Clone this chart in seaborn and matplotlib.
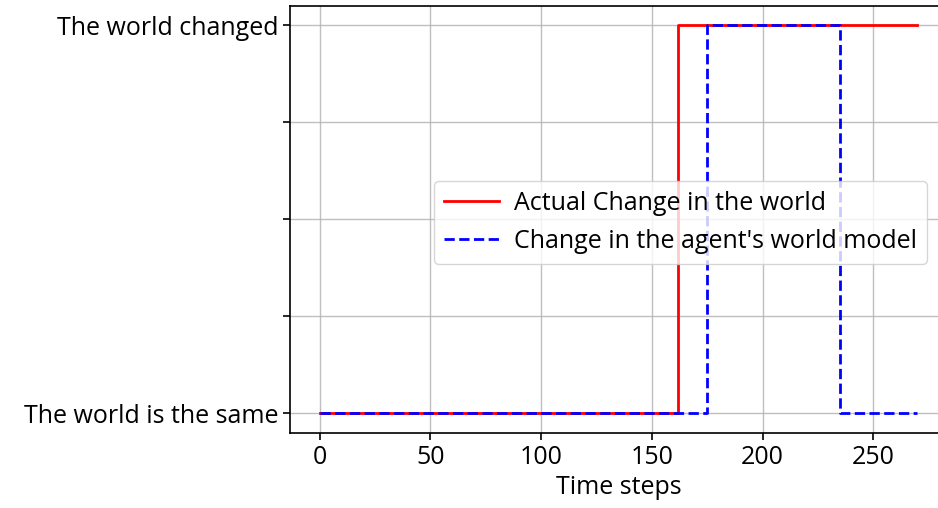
import matplotlib
matplotlib.use("Agg")
import matplotlib.pyplot as plt
import seaborn as sns

# step data
actual_t = [0, 162, 270]
actual_v = [0, 1, 1]
model_t = [0, 175, 235, 270]
model_v = [0, 1, 0, 0]
ytick_pos = [0, 0.25, 0.5, 0.75, 1]
ytick_labels = ['The world is the same', '', '', '', 'The world changed']

plt.rcParams['font.family'] = ['Open Sans', 'DejaVu Sans']

fig = plt.figure(figsize=(9.38, 5.08), dpi=100)
ax = fig.add_axes([0.309, 0.148, 0.701, 0.84])

sns.lineplot(x=actual_t, y=actual_v, drawstyle='steps-post', color='red',
             linewidth=2, label='Actual Change in the world', ax=ax)
sns.lineplot(x=model_t, y=model_v, drawstyle='steps-post', color='blue',
             linewidth=2, linestyle='--', label="Change in the agent's world model", ax=ax)

ax.set_yticks(ytick_pos)
ax.set_yticklabels(ytick_labels)
ax.tick_params(labelsize=18, length=5, width=1.2)
ax.set_xlabel('Time steps', fontsize=18, labelpad=4)
ax.grid(True, color='#b0b0b0', linewidth=1, alpha=0.8)
for s in ax.spines.values():
    s.set_linewidth(1.2)
ax.legend(loc='center left', bbox_to_anchor=(0.2, 0.493), fontsize=18,
          handlelength=2.2, handletextpad=0.6)

fig.savefig('out.png', dpi=100)
